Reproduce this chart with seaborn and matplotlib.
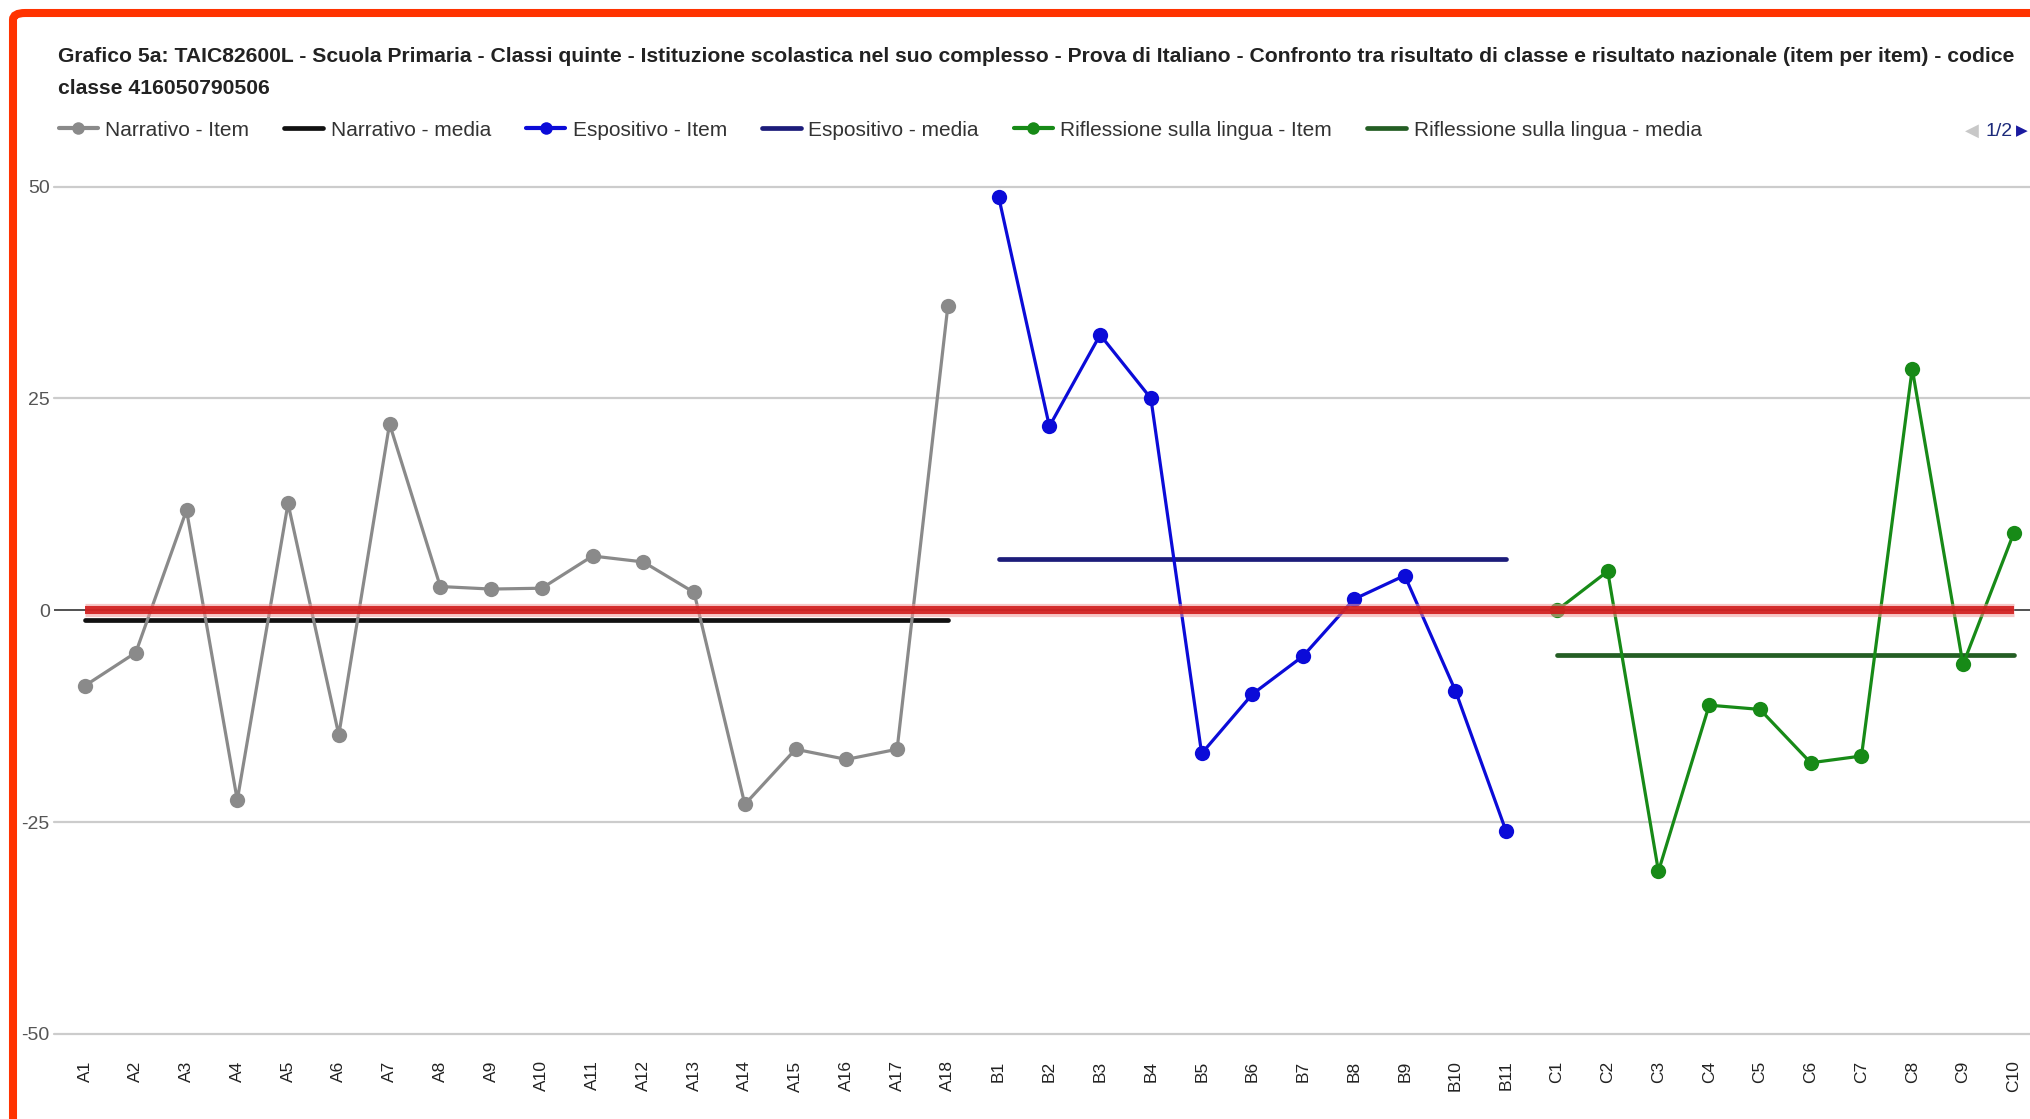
import numpy as np
import pandas as pd
import seaborn as sns
import matplotlib.pyplot as plt
from matplotlib.lines import Line2D
from matplotlib.patches import FancyBboxPatch

# data (class result minus national result, per item)
narrativo_items = ['A1', 'A2', 'A3', 'A4', 'A5', 'A6', 'A7', 'A8', 'A9', 'A10',
                   'A11', 'A12', 'A13', 'A14', 'A15', 'A16', 'A17', 'A18']
narrativo_vals = [-8.9, -5.0, 11.8, -22.4, 12.6, -14.7, 22.0, 2.8, 2.5, 2.6,
                  6.4, 5.7, 2.1, -22.9, -16.4, -17.6, -16.4, 35.9]
narrativo_media = -1.1

espositivo_items = ['B1', 'B2', 'B3', 'B4', 'B5', 'B6', 'B7', 'B8', 'B9', 'B10', 'B11']
espositivo_vals = [48.8, 21.7, 32.5, 25.0, -16.9, -9.9, -5.4, 1.3, 4.1, -9.5, -26.1]
espositivo_media = 6.0

riflessione_items = ['C1', 'C2', 'C3', 'C4', 'C5', 'C6', 'C7', 'C8', 'C9', 'C10']
riflessione_vals = [0.0, 4.6, -30.8, -11.2, -11.7, -18.0, -17.2, 28.5, -6.4, 9.1]
riflessione_media = -5.3

nazionale = 0.0
y_ticks = [-50, -25, 0, 25, 50]

title_1 = ('Grafico 5a: TAIC82600L - Scuola Primaria - Classi quinte - Istituzione scolastica '
           'nel suo complesso - Prova di Italiano - Confronto tra risultato di classe e '
           'risultato nazionale (item per item) - codice')
title_2 = 'classe 416050790506'

#build one long table
groups = [
    ('Narrativo', narrativo_items, narrativo_vals, narrativo_media, '#8a8a8a', '#111111'),
    ('Espositivo', espositivo_items, espositivo_vals, espositivo_media, '#0b0bd8', '#1c1c7a'),
    ('Riflessione sulla lingua', riflessione_items, riflessione_vals, riflessione_media, '#178a17', '#245e24'),
]
rows = []
pos = 0
for name, items, vals, media, c1, c2 in groups:
    for it, v in zip(items, vals):
        rows.append({'group': name, 'item': it, 'pos': pos, 'value': v, 'media': media})
        pos += 1
df = pd.DataFrame(rows)

sns.set_theme(style='white')
plt.rcParams['font.family'] = ['Liberation Sans', 'DejaVu Sans']

W, H = 2031, 1119
fig = plt.figure(figsize=(W / 100, H / 100), dpi=100)
fig.patch.set_facecolor('white')
ax = fig.add_axes([54 / W, 1 - 1034 / H, (W - 54) / W, (1034 - 186.5) / H])
ax.set_facecolor('white')

# grid
for yv in y_ticks:
    if yv != 0:
        ax.axhline(yv, color='#cccccc', lw=1.6, zorder=0, clip_on=False)
ax.axhline(0, color='#333333', lw=1.2, zorder=1)

handles = []
labels = []
for name, items, vals, media, c_item, c_media in groups:
    sub = df[df['group'] == name]
    sns.lineplot(data=sub, x='pos', y='value', color=c_item, marker='o', markersize=11,
                 markeredgewidth=0, linewidth=2.3, ax=ax, legend=False, zorder=3)
    sns.lineplot(data=sub, x='pos', y='media', color=c_media, linewidth=3.4,
                 ax=ax, legend=False, zorder=2)
    handles.append(Line2D([], [], color=c_item, marker='o', markersize=9, markeredgewidth=0, lw=3))
    labels.append(name + ' - Item')
    handles.append(Line2D([], [], color=c_media, lw=3.4))
    labels.append(name + ' - media')

# national reference line
ax.plot(df['pos'], [nazionale] * len(df), color='#f29a9a', lw=9.5, alpha=0.55, zorder=4,
        solid_capstyle='butt')
ax.plot(df['pos'], [nazionale] * len(df), color='#d01818', lw=5.8, alpha=0.88, zorder=5,
        solid_capstyle='butt')

ax.set_xlim(-0.611, 38.34)
ax.set_ylim(-50, 50)
ax.set_yticks(y_ticks)
ax.set_yticklabels([str(v) for v in y_ticks])
ax.set_xticks(df['pos'])
ax.set_xticklabels(df['item'], rotation=90)
ax.tick_params(axis='y', length=0, pad=3, labelsize=14, labelcolor='#555555')
ax.tick_params(axis='x', length=0, pad=19, labelsize=12.5, labelcolor='#222222')
for t in ax.get_xticklabels():
    t.set_va('top')
ax.set_xlabel('')
ax.set_ylabel('')
for s in ax.spines.values():
    s.set_visible(False)

# title
fig.text(58 / W, 1 - 57 / H, title_1, fontsize=15.2, fontweight='bold', color='#222222', va='center')
fig.text(58 / W, 1 - 88 / H, title_2, fontsize=15.2, fontweight='bold', color='#222222', va='center')

# legend
fig.legend(handles, labels, ncol=6, loc='center left', bbox_to_anchor=(59 / W, 1 - 130 / H),
           frameon=False, fontsize=15, handlelength=1.86, handletextpad=0.37,
           columnspacing=1.68, borderpad=0, borderaxespad=0, labelcolor='#333333')

# page indicator
fig.text(1972 / W, 1 - 131 / H, '\u25c0', fontsize=13, color='#c8c8c8', ha='center', va='center',
         family='DejaVu Sans')
fig.text(1986 / W, 1 - 131 / H, '1/2', fontsize=14, color='#1c2a7a', ha='left', va='center')
fig.text(2022 / W, 1 - 131 / H, '\u25b6', fontsize=11, color='#1a1aa0', ha='center', va='center',
         family='DejaVu Sans')

# red frame round the screenshot
frame = FancyBboxPatch((13 / W, -0.1), 1.1, 1.1 - 13 / H, boxstyle='round,pad=0,rounding_size=0.006',
                       transform=fig.transFigure, fill=False, edgecolor='#ff3300', lw=5.8)
fig.patches.append(frame)

fig.savefig('out.png', dpi=100, facecolor='white')
